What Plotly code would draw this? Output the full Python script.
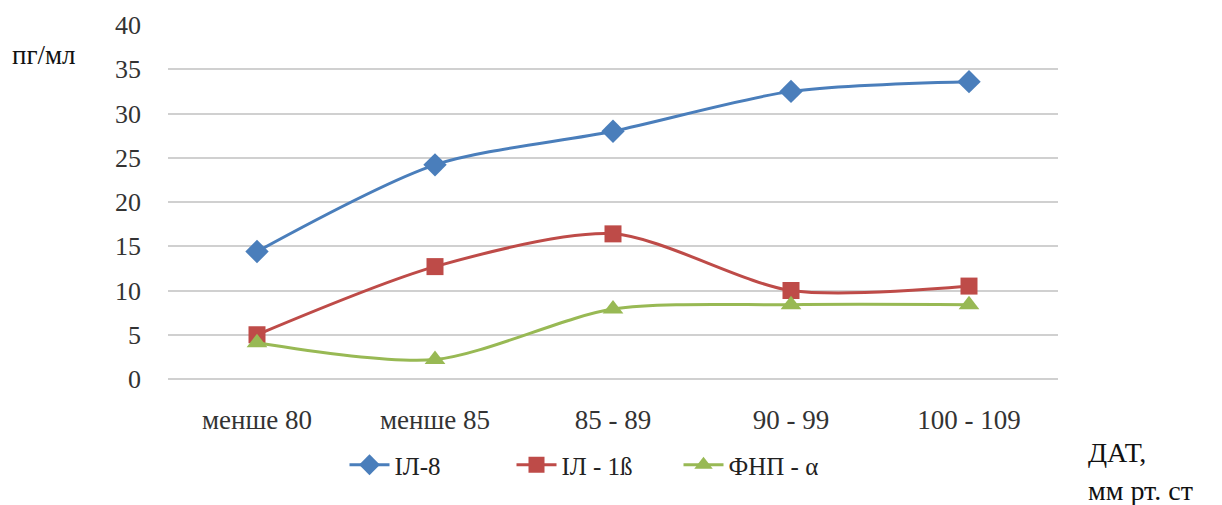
import plotly.graph_objects as go

categories = ["менше 80", "менше 85", "85 - 89", "90 - 99", "100 - 109"]
il8 = [14.4, 24.2, 28.0, 32.5, 33.6]
il1b = [5.0, 12.7, 16.4, 10.0, 10.5]
fnp = [4.1, 2.2, 7.9, 8.4, 8.4]
series_names = ["ІЛ-8", "ІЛ - 1ß", "ФНП - α"]
y_ticks = [0, 5, 10, 15, 20, 25, 30, 35, 40]

font_family = "Liberation Serif, Times New Roman, serif"

# the page body adds an 8px margin; work in screen pixels and compensate
OFF = 8
W, H = 1222 - OFF, 505 - OFF
L, R, T, B = 168 - OFF, 164, 25 - OFF, 126
pw = W - L - R
ph = H - T - B


def px_x(x):
    return (x - OFF - L) / pw


def px_y(y):
    return (H - B - (y - OFF)) / ph


fig = go.Figure()
styles = [
    (il8, "#4a7ebb", "diamond", 18),
    (il1b, "#be4b48", "square", 17),
    (fnp, "#98b954", "triangle-up", 18),
]
for name, (vals, color, sym, size) in zip(series_names, styles):
    fig.add_trace(go.Scatter(
        x=categories, y=vals, name=name, mode="lines+markers",
        line=dict(color=color, width=3, shape="spline", smoothing=0.8),
        marker=dict(symbol=sym, size=size, color=color),
    ))

fig.update_layout(
    width=W, height=H,
    margin=dict(l=L, r=R, t=T, b=B, autoexpand=False),
    paper_bgcolor="white", plot_bgcolor="white",
    font=dict(family=font_family, size=26, color="#333333"),
    showlegend=True,
    legend=dict(orientation="h", x=px_x(595), xanchor="center",
                y=px_y(465), yanchor="middle",
                font=dict(size=25, family=font_family, color="#222222"),
                itemwidth=40, tracegroupgap=0,
                entrywidth=112, entrywidthmode="pixels"),
    xaxis=dict(type="category", range=[-0.5, 4.5], showgrid=False,
               showline=False, ticks="", tickfont=dict(size=27, color="#333333"),
               ticklabelstandoff=22),
    yaxis=dict(range=[0, 40], tickvals=y_ticks, showgrid=True,
               gridcolor="#d0d0d0", gridwidth=1.5, zeroline=True,
               zerolinecolor="#d0d0d0", zerolinewidth=1.5,
               showline=False, ticks="", tickfont=dict(size=26, color="#333333"),
               ticklabelstandoff=26),
    annotations=[
        dict(text="пг/мл", x=px_x(10), y=px_y(55), xref="paper", yref="paper",
             showarrow=False, font=dict(size=27, color="#111111"),
             xanchor="left", yanchor="middle"),
        dict(text="ДАТ,", x=px_x(1086), y=px_y(452), xref="paper", yref="paper",
             showarrow=False, font=dict(size=28, color="#111111"),
             xanchor="left", yanchor="middle"),
        dict(text="мм рт. ст", x=px_x(1086), y=px_y(490), xref="paper", yref="paper",
             showarrow=False, font=dict(size=28, color="#111111"),
             xanchor="left", yanchor="middle"),
    ],
)

fig.write_html("out.html")
